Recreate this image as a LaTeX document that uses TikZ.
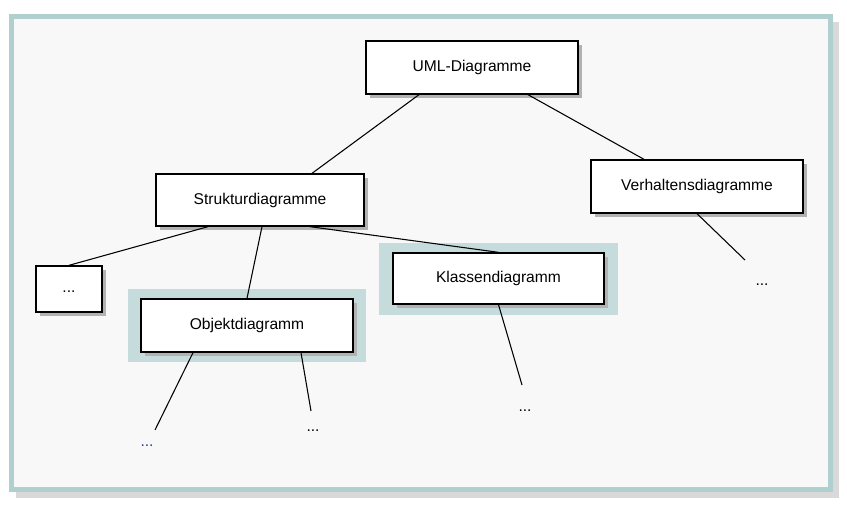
\documentclass[tikz,border=0pt]{standalone}
\usepackage{fontspec}
\setmainfont{Liberation Sans}
\usetikzlibrary{calc,shadows}

\definecolor{framecol}{HTML}{B0D0D0}
\definecolor{hilite}{HTML}{C6DCDC}
\definecolor{paper}{HTML}{F8F8F8}
\definecolor{dotblue}{HTML}{1F3F9F}

\tikzset{
	diag/.style={draw=black, line width=1pt, fill=white, inner sep=0pt,
		minimum width=159pt, minimum height=39.75pt,
		drop shadow={shadow xshift=3pt, shadow yshift=-3pt, fill=black!30, opacity=1}},
	link/.style={draw=black, line width=0.8pt},
	dots/.style={inner sep=0pt}
}

\begin{document}
\begin{tikzpicture}[x=0.75pt,y=-0.75pt,font=\fontsize{11.7}{14}\selectfont]
	\useasboundingbox (0,0) rectangle (847,509);
	% frame
	\fill[black!15] (16,22) rectangle (839,498);
	\draw[framecol,line width=3.75pt,fill=paper] (11.5,16.5) rectangle (830.2,489.5);
	% highlights
	\fill[hilite] (128,289) rectangle (366,362);
	\fill[hilite] (379,243) rectangle (618,315);
	% boxes
	\node[diag](uml) at (472,67.5){UML-Diagramme};
	\node[diag,minimum width=156pt,minimum height=39pt](struktur) at (260,200){Strukturdiagramme};
	\node[diag](verhalten) at (697,186.5){Verhaltensdiagramme};
	\node[diag,minimum width=49.5pt,minimum height=34.5pt](more) at (69,289){\vphantom{Ag}...};
	\node[diag,minimum width=158.25pt,minimum height=38.25pt](klassen) at (498.5,278.5){Klassendiagramm};
	\node[diag](objekt) at (247,325.5){Objektdiagramm};
	% open ends
	\coordinate (o1) at (155,430);
	\coordinate (o2) at (311,411);
	\coordinate (k1) at (522,385);
	\coordinate (v1) at (745,260);
	\node[dots,text=dotblue](o1dots) at (147,446){...};
	\node[dots](o2dots) at (313,431){...};
	\node[dots](k1dots) at (525,411){...};
	\node[dots](v1dots) at (762,285){...};
	% connectors
	\draw[link] ($(uml.south)+(-53,0)$) -- ($(struktur.north)+(52,0)$);
	\draw[link] ($(uml.south)+(56,0)$) -- ($(verhalten.north)+(-53,0)$);
	\draw[link] ($(struktur.south)+(-52,0)$) -- (more.north);
	\draw[link] ($(struktur.south)+(2,0)$) -- (objekt.north);
	\draw[link] ($(struktur.south)+(50,0)$) -- (klassen.north);
	\draw[link] ($(objekt.south)+(-54,0)$) -- (o1);
	\draw[link] ($(objekt.south)+(54,0)$) -- (o2);
	\draw[link] (klassen.south) -- (k1);
	\draw[link] (verhalten.south) -- (v1);
\end{tikzpicture}
\end{document}
